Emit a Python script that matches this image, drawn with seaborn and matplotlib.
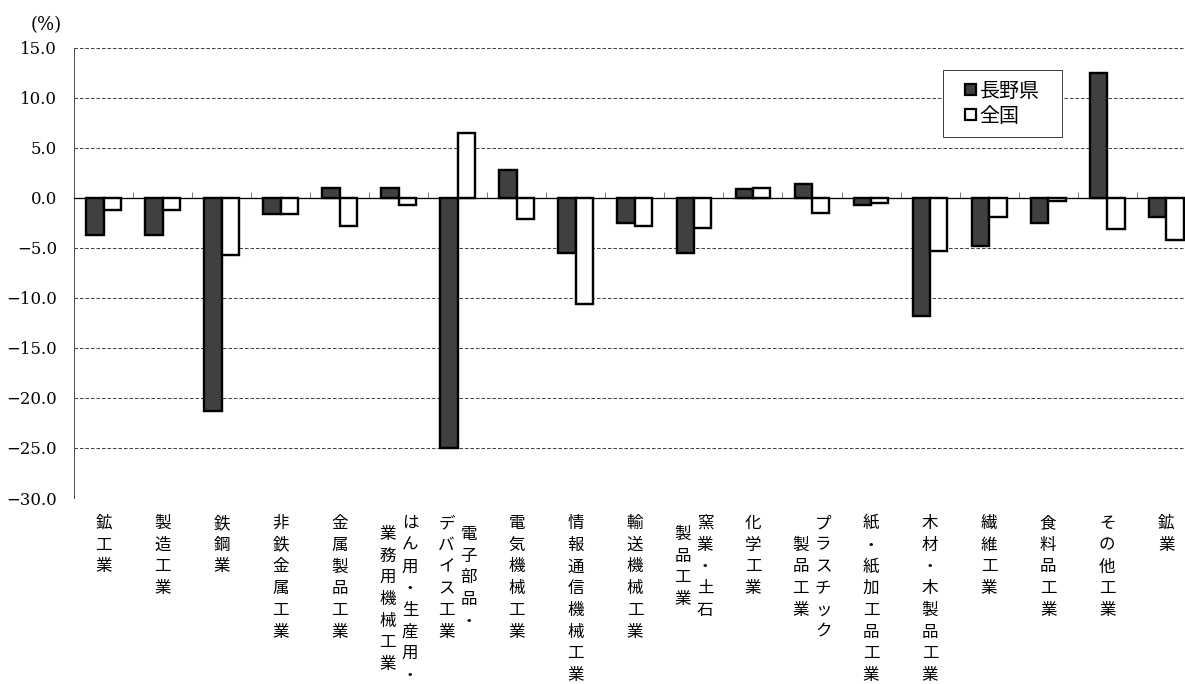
import matplotlib
matplotlib.use("Agg")
import matplotlib.pyplot as plt
from matplotlib.patches import Patch, Rectangle
import seaborn as sns
import pandas as pd

# ---------------- data ----------------
label_columns = [
    ["鉱工業"],
    ["製造工業"],
    ["鉄鋼業"],
    ["非鉄金属工業"],
    ["金属製品工業"],
    ["はん用・生産用・", "業務用機械工業"],
    ["電子部品・", "デバイス工業"],
    ["電気機械工業"],
    ["情報通信機械工業"],
    ["輸送機械工業"],
    ["窯業・土石", "製品工業"],
    ["化学工業"],
    ["プラスチック", "製品工業"],
    ["紙・紙加工品工業"],
    ["木材・木製品工業"],
    ["繊維工業"],
    ["食料品工業"],
    ["その他工業"],
    ["鉱業"],
]
categories = ["".join(c) for c in label_columns]
series_names = ["長野県", "全国"]
nagano = [-3.7, -3.7, -21.3, -1.6, 1.0, 1.0, -25.0, 2.8, -5.5, -2.5,
          -5.5, 0.9, 1.4, -0.7, -11.8, -4.8, -2.5, 12.5, -1.9]
zenkoku = [-1.2, -1.2, -5.7, -1.6, -2.8, -0.7, 6.5, -2.1, -10.6, -2.8,
           -3.0, 1.0, -1.5, -0.5, -5.3, -1.9, -0.3, -3.1, -4.2]
y_ticks = [15, 10, 5, 0, -5, -10, -15, -20, -25, -30]
y_unit = "(%)"

df = pd.DataFrame({
    "category": categories * 2,
    "series": [series_names[0]] * len(categories) + [series_names[1]] * len(categories),
    "value": nagano + zenkoku,
})

# ---------------- figure ----------------
DPI = 72
W, H = 1185, 684
fig = plt.figure(figsize=(W / DPI, H / DPI), dpi=DPI)
plt.rcParams["font.family"] = ["Noto Sans CJK JP", "DejaVu Sans"]

ax_left, ax_top, ax_right, ax_bottom = 74, 47.7, 74 + 19 * 59.04, 498
ax = fig.add_axes([ax_left / W, 1 - ax_bottom / H,
                   (ax_right - ax_left) / W, (ax_bottom - ax_top) / H])

colors = {series_names[0]: "#404040", series_names[1]: "#ffffff"}
sns.barplot(data=df, x="category", y="value", hue="series", order=categories,
            hue_order=series_names, palette=colors, edgecolor="black",
            linewidth=2.4, width=0.59, gap=0, legend=False, ax=ax, zorder=3)

ax.set_xlim(-0.5, len(categories) - 0.5)
ax.set_ylim(min(y_ticks), max(y_ticks))
ax.set_xlabel("")
ax.set_ylabel("")

# grid
ax.set_axisbelow(True)
ax.yaxis.grid(True, linestyle=(0, (3.5, 2)), color="#444444", linewidth=1.0)
ax.xaxis.grid(False)

# y ticks
ax.set_yticks(y_ticks)
ax.set_yticklabels([f"{v:.1f}".replace("-", "\u2212") for v in y_ticks],
                   family="DejaVu Serif", fontsize=16.5)
ax.tick_params(axis="y", length=0, pad=17)

# x axis at zero with boundary ticks
ax.spines["top"].set_visible(False)
ax.spines["right"].set_visible(False)
ax.spines["left"].set_color("#505050")
ax.spines["left"].set_linewidth(1.0)
ax.spines["bottom"].set_position(("data", 0))
ax.spines["bottom"].set_color("black")
ax.spines["bottom"].set_linewidth(1.3)
ax.spines["bottom"].set_zorder(2.5)
ax.set_xticks(range(len(categories)))
ax.set_xticks([i + 0.5 for i in range(len(categories) - 1)], minor=True)
ax.tick_params(axis="x", which="major", length=0, labelbottom=False)
ax.tick_params(axis="x", which="minor", direction="in", length=6,
               width=1, color="#808080")

# vertical category labels (drawn character by character)
step = 21.7
first_center = -25.5
col_dx = 11.2
for i, cols in enumerate(label_columns):
    n = len(cols)
    m = max(len(c) for c in cols)
    for j, col in enumerate(cols):
        dx = 0 if n == 1 else (col_dx if j == 0 else -col_dx)
        y0 = first_center - (m - len(col)) * step / 2
        for k, ch in enumerate(col):
            ax.annotate(ch, xy=(i, 0), xycoords=("data", "axes fraction"),
                        xytext=(dx, y0 - k * step), textcoords="offset pixels",
                        ha="center", va="center", fontsize=16.5,
                        annotation_clip=False)

# unit label
fig.text(46 / W, 1 - 25 / H, y_unit, ha="center", va="center",
         family="DejaVu Serif", fontsize=18)

# legend
bx0, by0, bx1, by1 = 942.7, 70.3, 1062.3, 136.7
to_ax = lambda px, py: ((px - ax_left) / (ax_right - ax_left),
                        (ax_bottom - py) / (ax_bottom - ax_top))
(lx0, ly0) = to_ax(bx0, by1)
(lx1, ly1) = to_ax(bx1, by0)
ax.add_patch(Rectangle((lx0, ly0), lx1 - lx0, ly1 - ly0, transform=ax.transAxes,
                       facecolor="white", edgecolor="#404040", linewidth=1.0,
                       zorder=5, clip_on=False))
handles = [Patch(facecolor=colors[s], edgecolor="black", linewidth=2.2, label=s)
           for s in series_names]
cx, cy = to_ax((bx0 + bx1) / 2, (by0 + by1) / 2)
leg = ax.legend(handles=handles, loc="center", bbox_to_anchor=(cx, cy),
                frameon=False, fontsize=20, handlelength=0.52, handleheight=0.52,
                handletextpad=0.2, labelspacing=0.2, borderpad=0, borderaxespad=0)
leg.set_zorder(6)

fig.savefig("out.png", dpi=DPI)
